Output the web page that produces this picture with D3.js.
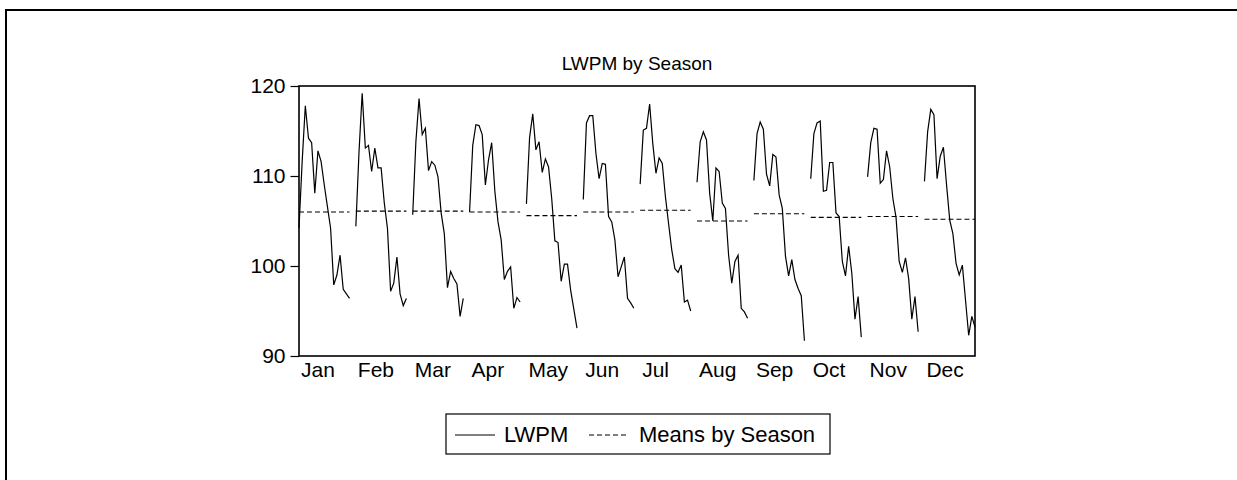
<!DOCTYPE html>
<html>
<head>
<meta charset="utf-8">
<script src="https://cdn.jsdelivr.net/npm/d3@7"></script>
<style>
  html, body { margin: 0; padding: 0; background: #fff; }
  svg { display: block; }
  text { font-family: Arial, "Liberation Sans", sans-serif; fill: #000; }
</style>
</head>
<body>
<svg id="chart" width="1237" height="480"></svg>
<script>
const months = ["Jan","Feb","Mar","Apr","May","Jun","Jul","Aug","Sep","Oct","Nov","Dec"];
const jan = [104.2,111.6,117.8,114.2,113.7,108.1,112.8,111.6,109.0,106.6,104.2,97.9,99.0,101.2,97.4,96.9,96.4];
const feb = [104.4,112.7,119.2,113.1,113.4,110.5,113.1,110.9,110.9,107.0,104.2,97.2,98.1,101.0,96.9,95.6,96.4];
const mar = [105.7,113.8,118.6,114.6,115.3,110.6,111.6,111.2,109.9,105.9,103.6,97.6,99.4,98.6,98.0,94.4,96.4];
const apr = [106.0,113.4,115.7,115.6,114.6,109.0,111.8,113.7,108.3,104.9,102.9,98.5,99.4,99.9,95.3,96.5,96.0];
const may = [106.9,114.3,116.9,112.9,113.8,110.4,111.9,111.0,107.5,102.8,102.6,98.3,100.2,100.2,97.3,95.2,93.1];
const jun = [107.4,115.9,116.7,116.7,112.5,109.7,111.4,111.3,105.5,104.9,102.9,98.8,99.9,101.0,96.4,95.9,95.3];
const jul = [109.1,115.1,115.3,118.0,113.6,110.3,112.0,111.4,107.7,104.7,101.8,99.7,99.3,100.1,96.0,96.2,95.0];
const aug = [109.3,113.8,114.9,114.0,108.1,105.0,110.9,110.5,107.0,106.4,101.2,98.1,100.5,101.2,95.3,94.9,94.2];
const sep = [109.5,114.7,116.0,115.2,110.2,108.9,112.4,112.1,107.9,106.4,101.1,98.9,100.7,98.5,97.5,96.7,91.7];
const oct = [109.7,114.7,115.9,116.1,108.3,108.4,111.5,111.5,105.9,105.5,100.5,98.9,102.2,99.2,94.1,96.6,92.1];
const nov = [109.9,113.7,115.3,115.2,109.2,109.6,112.8,111.0,107.5,105.4,100.5,99.3,100.9,98.6,94.1,96.6,92.7];
const dec = [109.4,114.9,117.4,116.8,109.7,112.2,113.2,109.0,105.1,103.6,100.3,99.0,100.1,96.2,92.3,94.4,93.2];
const seasonMeans = [106.0,106.1,106.1,106.0,105.6,106.0,106.2,105.0,105.8,105.4,105.5,105.2];
const yTicks = [90,100,110,120];

const series = [jan,feb,mar,apr,may,jun,jul,aug,sep,oct,nov,dec];
const slotsPerPanel = 18;
const nSlots = slotsPerPanel * 12 - 1;

const svg = d3.select("#chart");
const plot = {left: 299, right: 975, top: 86, bottom: 356};
const FS = "21px";

// outer frame
svg.append("rect").attr("x", 6).attr("y", 10).attr("width", 1300).attr("height", 600)
  .attr("fill", "none").attr("stroke", "#000").attr("stroke-width", 2);

const x = d3.scaleLinear().domain([0, nSlots - 1]).range([plot.left, plot.right]);
const y = d3.scaleLinear().domain([90, 120]).range([plot.bottom, plot.top]);

// title
svg.append("text").attr("x", 637).attr("y", 70).attr("text-anchor", "middle")
  .style("font-size", "19px").text("LWPM by Season");

// y axis
const yAxis = d3.axisLeft(y).tickValues(yTicks).tickSize(8.5).tickPadding(5).tickFormat(d3.format("d"));
const ga = svg.append("g").attr("transform", `translate(${plot.left},0)`).call(yAxis);
ga.select(".domain").remove();
ga.selectAll("line").attr("stroke", "#000").attr("stroke-width", 1.2);
ga.selectAll("text").style("font-size", FS).style("font-family", "Arial, 'Liberation Sans', sans-serif").attr("fill", "#000");

// month labels
svg.append("g").selectAll("text").data(months).join("text")
  .attr("x", (d, i) => x(i * slotsPerPanel) + 2)
  .attr("y", 377)
  .style("font-size", FS)
  .text(d => d);

// means (dashed) and LWPM lines
const lineGen = d3.line().x(d => x(d.s)).y(d => y(d.v));
series.forEach((vals, m) => {
  const pts = vals.map((v, i) => ({s: m * slotsPerPanel + i, v}));
  const meanPts = [{s: m * slotsPerPanel, v: seasonMeans[m]}, {s: m * slotsPerPanel + vals.length - 1, v: seasonMeans[m]}];
  svg.append("path").datum(meanPts).attr("d", lineGen)
    .attr("fill", "none").attr("stroke", "#000").attr("stroke-width", 1.1).attr("stroke-dasharray", "5,3");
  svg.append("path").datum(pts).attr("d", lineGen)
    .attr("fill", "none").attr("stroke", "#000").attr("stroke-width", 1.2).attr("stroke-linejoin", "miter");
});

// plot frame
svg.append("rect").attr("x", plot.left).attr("y", plot.top)
  .attr("width", plot.right - plot.left).attr("height", plot.bottom - plot.top)
  .attr("fill", "none").attr("stroke", "#000").attr("stroke-width", 1.6);

// legend
const lg = svg.append("g");
lg.append("rect").attr("x", 446).attr("y", 414).attr("width", 384).attr("height", 40)
  .attr("fill", "#fff").attr("stroke", "#000").attr("stroke-width", 1.2);
lg.append("line").attr("x1", 455).attr("x2", 495).attr("y1", 435).attr("y2", 435)
  .attr("stroke", "#000").attr("stroke-width", 1.2);
lg.append("text").attr("x", 504).attr("y", 442).style("font-size", "22px").text("LWPM");
lg.append("line").attr("x1", 589).attr("x2", 629).attr("y1", 435).attr("y2", 435)
  .attr("stroke", "#000").attr("stroke-width", 1.1).attr("stroke-dasharray", "5,3");
lg.append("text").attr("x", 639).attr("y", 442).style("font-size", "22px").text("Means by Season");
</script>
</body>
</html>
